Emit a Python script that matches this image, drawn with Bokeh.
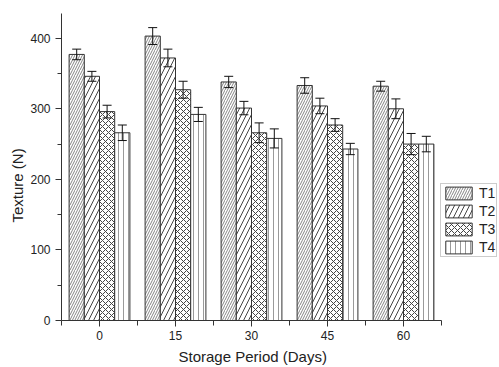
from bokeh.plotting import figure
from bokeh.models import (ColumnDataSource, Whisker, TeeHead, FixedTicker, Range1d,
                          Legend, LegendItem, Title)
from bokeh.embed import file_html
from bokeh.resources import INLINE

days = ["0", "15", "30", "45", "60"]
series = ["T1", "T2", "T3", "T4"]
T1 = [377, 403, 338, 333, 332]
T1_err = [7.5, 12, 8, 11, 7]
T2 = [346, 372, 301, 304, 300]
T2_err = [7, 12.5, 9.5, 11, 14]
T3 = [296, 327, 266, 277, 250]
T3_err = [9, 12, 14, 9, 15]
T4 = [266, 292, 258, 243, 250]
T4_err = [11, 10, 13.5, 8, 11]
y_ticks = [0, 100, 200, 300, 400]

values = [T1, T2, T3, T4]
errors = [T1_err, T2_err, T3_err, T4_err]
offsets = [-0.3, -0.1, 0.1, 0.3]
styles = [
    dict(hatch_pattern="/", hatch_scale=5, hatch_color="#666666", hatch_weight=0.8),
    dict(hatch_pattern="/", hatch_scale=10, hatch_color="#444444", hatch_weight=1),
    dict(hatch_pattern="x", hatch_scale=6, hatch_color="#444444", hatch_weight=1),
    dict(hatch_pattern="|", hatch_scale=5, hatch_color="#9a9a9a", hatch_weight=1),
]

n = len(days)
frame_w = 438
unit_px = 76
p = figure(frame_width=frame_w, frame_height=307, output_backend="svg",
           toolbar_location=None,
           x_range=Range1d(-0.5, -0.5 + frame_w / unit_px), y_range=Range1d(0, 435),
           min_border_left=61, min_border_right=0, min_border_top=13,
           min_border_bottom=47)
p.outline_line_color = None
p.grid.grid_line_color = None
p.background_fill_color = "white"
p.border_fill_color = "white"

items = []
for i, name in enumerate(series):
    xs = [j + offsets[i] for j in range(n)]
    src = ColumnDataSource(dict(x=xs, top=values[i],
                                lo=[v - e for v, e in zip(values[i], errors[i])],
                                hi=[v + e for v, e in zip(values[i], errors[i])]))
    r = p.vbar(x="x", top="top", width=0.2, bottom=0, source=src,
               fill_color="white", line_color="#333333", line_width=1,
               **styles[i])
    items.append(LegendItem(label=name, renderers=[r]))
    w = Whisker(base="x", lower="lo", upper="hi", source=src,
                line_color="#111111", line_width=1, level="overlay",
                upper_head=TeeHead(size=9, line_color="#111111", line_width=1),
                lower_head=TeeHead(size=9, line_color="#111111", line_width=1))
    p.add_layout(w)

legend = Legend(items=items, location=(379, 63), orientation="vertical",
                glyph_width=33, glyph_height=16, label_standoff=4,
                label_width=15, padding=1, spacing=2, margin=0,
                label_text_font="Liberation Sans", label_text_font_size="14px",
                label_text_color="#222222", border_line_color="#999999",
                border_line_width=1, background_fill_alpha=1)
p.add_layout(legend, "center")

ax = p.xaxis[0]
ax.ticker = FixedTicker(ticks=list(range(n)),
                        minor_ticks=[k - 0.5 for k in range(n + 1)])
ax.major_label_overrides = {k: d for k, d in enumerate(days)}
ax.bounds = (-0.5, n - 0.5)

ay = p.yaxis[0]
ay.ticker = FixedTicker(ticks=y_ticks, minor_ticks=[50, 150, 250, 350])

for a in (ax, ay):
    a.axis_line_color = "#333333"
    a.major_tick_line_color = "#333333"
    a.minor_tick_line_color = "#333333"
    a.major_tick_out = 6
    a.major_tick_in = 0
    a.minor_tick_out = 4
    a.minor_tick_in = 0
    a.major_label_text_font = "Liberation Sans"
    a.major_label_text_font_size = "12px"
    a.major_label_text_color = "#222222"
    a.major_label_standoff = 5
ax.minor_tick_out = 5
ax.major_label_standoff = 4

xtitle = Title(text="Storage Period (Days)", align="left", offset=117,
               text_font="Liberation Sans", text_font_size="15px",
               text_font_style="normal", text_color="#222222", standoff=6)
p.add_layout(xtitle, "below")

ytitle = Title(text="Texture (N)", align="left", offset=98,
               text_font="Liberation Sans", text_font_size="15px",
               text_font_style="normal", text_color="#222222", standoff=4)
p.add_layout(ytitle, "left")

open("out.html", "w").write(file_html(p, INLINE))
